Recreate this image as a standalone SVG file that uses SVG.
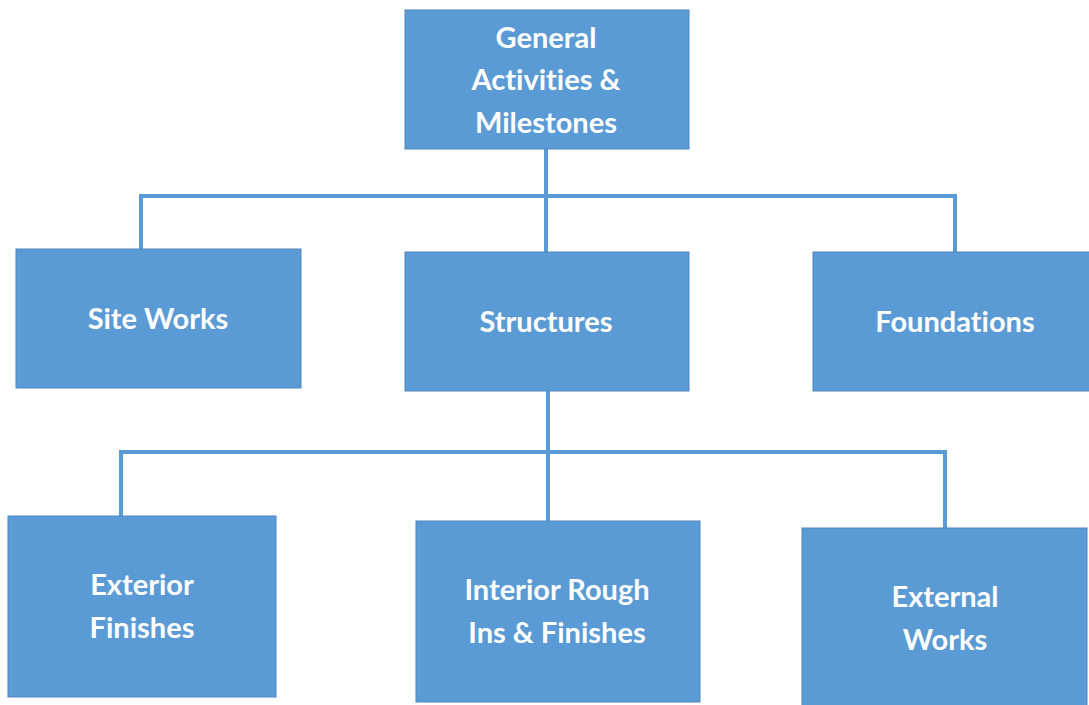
<svg xmlns="http://www.w3.org/2000/svg" width="1089" height="705" viewBox="0 0 1089 705">
  <style>
    .box { fill: #5B9BD5; stroke: #4F86BE; stroke-width: 1; }
    .lbl { fill: #FFFFFF; font-family: Lato, "Open Sans", "Liberation Sans", sans-serif; font-weight: bold; font-size: 29px; text-anchor: middle; font-variant-ligatures: none; font-feature-settings: "liga" 0, "clig" 0; }
    .link { fill: none; stroke: #5B9BD5; stroke-width: 4; stroke-linejoin: miter; }
  </style>
  <rect width="1089" height="705" fill="#FFFFFF"/>

  <g id="connectors">
    <path class="link" d="M546,149 V196"/>
    <path class="link" d="M141,249 V196 H955 V252"/>
    <path class="link" d="M546,196 V252"/>
    <path class="link" d="M548,391 V452"/>
    <path class="link" d="M121,516 V452 H945 V528"/>
    <path class="link" d="M548,452 V521"/>
  </g>

  <g id="general">
    <rect class="box" x="405" y="10" width="284" height="139"/>
    <text class="lbl" x="546" y="48">General</text>
    <text class="lbl" x="546" y="90">Activities &amp;</text>
    <text class="lbl" x="546" y="133">Milestones</text>
  </g>

  <g id="site-works">
    <rect class="box" x="16" y="249" width="285" height="139"/>
    <text class="lbl" x="158" y="329">Site Works</text>
  </g>

  <g id="structures">
    <rect class="box" x="405" y="252" width="284" height="139"/>
    <text class="lbl" x="546" y="332">Structures</text>
  </g>

  <g id="foundations">
    <rect class="box" x="813" y="252" width="280" height="139"/>
    <text class="lbl" x="955" y="332">Foundations</text>
  </g>

  <g id="exterior-finishes">
    <rect class="box" x="8" y="516" width="268" height="181"/>
    <text class="lbl" x="142" y="595">Exterior</text>
    <text class="lbl" x="142" y="638">Finishes</text>
  </g>

  <g id="interior-rough-ins">
    <rect class="box" x="416" y="521" width="284" height="181"/>
    <text class="lbl" x="557" y="600">Interior Rough</text>
    <text class="lbl" x="557" y="643">Ins &amp; Finishes</text>
  </g>

  <g id="external-works">
    <rect class="box" x="802" y="528" width="285" height="181"/>
    <text class="lbl" x="945" y="607">External</text>
    <text class="lbl" x="945" y="650">Works</text>
  </g>
</svg>
